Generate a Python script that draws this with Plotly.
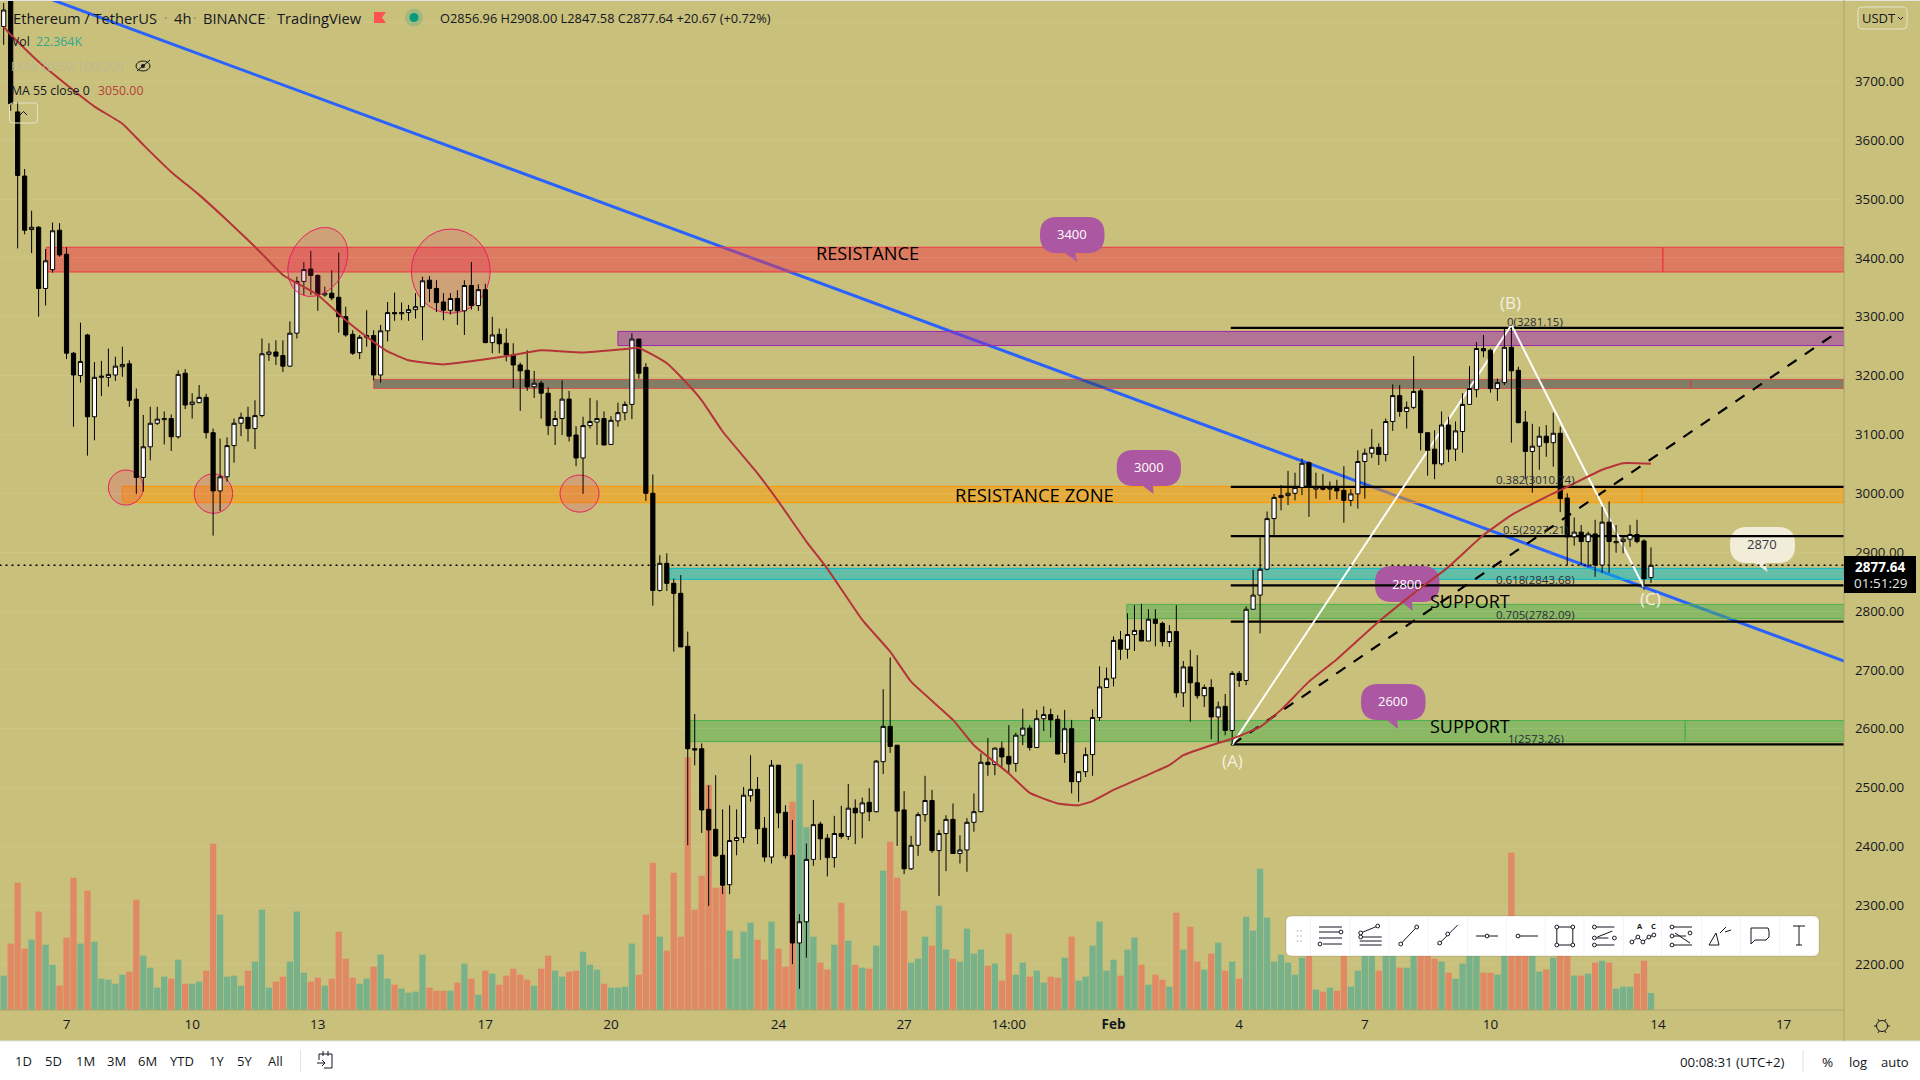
# eth_chart.py
import pandas as pd
import numpy as np
import plotly.graph_objects as go

# 4h candles ETH/USDT
first_bar = pd.Timestamp("2022-01-05 12:00")

opens = [3793,3838,3648,3539,3448,3452,3348,3380,3447,3406, 3238,3200,3269,3130,3197,3197,3201,3215,3220,3160,
         3027,3079,3119,3125,3127,3096,3204,3151,3154,3163, 3103,3004,3028,3081,3119,3129,3110,3132,3236,3240,
         3234,3216,3272,3360,3381,3370,3337,3340,3333,3300, 3270,3239,3265,3268,3201,3276,3307,3305,3307,3312,
         3317,3362,3348,3325,3311,3331,3310,3353,3319,3346, 3256,3270,3255,3235,3218,3209,3181,3187,3170,3115,
         3127,3160,3099,3060,3115,3121,3127,3083,3123,3137, 3151,3262,3214,3000,2835,2881,2847,2830,2740,2566,
         2566,2463,2429,2385,2335,2410,2415,2486,2497,2431, 2382,2538,2458,2385,2236,2272,2378,2438,2414,2381,
         2422,2417,2465,2457,2475,2459,2544,2604,2572,2462, 2362,2402,2454,2478,2393,2422,2446,2388,2394,2441,
         2459,2543,2539,2567,2553,2541,2589,2601,2568,2617, 2624,2616,2558,2600,2510,2527,2556,2619,2670,2686,
         2751,2735,2760,2767,2749,2786,2779,2748,2765,2661, 2705,2678,2656,2670,2620,2638,2597,2694,2682,2803,
         2827,2871,2957,2993,2996,3000,3010,3052,3007,3009, 3007,3009,3005,2988,2999,3054,3068,3078,3066,3122,
         3166,3139,3146,3174,3103,3075,3050,3116,3075,3105, 3151,3176,3246,3243,3178,3188,3248,3209,3121,3071,
         3080,3097,3086,3102,2992,2926,2934,2918,2931,2878, 2951,2916,2918,2922,2930,2919,2856.96]
highs = [3833,3850,3665,3551,3480,3454,3415,3460,3459,3418, 3240,3290,3271,3223,3225,3246,3232,3249,3226,3178,
         3133,3147,3147,3139,3134,3209,3211,3170,3184,3169, 3110,3093,3095,3127,3137,3147,3158,3263,3255,3260,
         3260,3292,3368,3393,3412,3372,3351,3379,3409,3317, 3277,3269,3311,3277,3286,3325,3341,3324,3320,3340,
         3368,3369,3362,3340,3340,3345,3362,3393,3355,3356, 3300,3280,3280,3255,3222,3243,3208,3191,3180,3140,
         3192,3174,3114,3130,3162,3158,3139,3131,3154,3156, 3272,3262,3221,3032,2895,2898,2855,2861,2765,2625,
         2575,2504,2521,2463,2470,2463,2501,2555,2518,2450, 2547,2538,2470,2445,2285,2405,2479,2442,2421,2452,
         2469,2506,2480,2483,2499,2547,2667,2721,2572,2494, 2418,2458,2520,2496,2428,2453,2473,2419,2448,2490,
         2558,2584,2568,2578,2606,2593,2634,2606,2632,2638, 2634,2623,2632,2615,2527,2568,2633,2706,2704,2757,
         2766,2796,2810,2812,2803,2803,2782,2776,2810,2715, 2734,2725,2675,2684,2646,2659,2698,2698,2808,2870,
         2925,2969,2999,3014,3038,3035,3059,3054,3035,3033, 3020,3023,3046,3007,3073,3076,3109,3085,3127,3185,
         3184,3156,3233,3178,3103,3107,3139,3130,3122,3170, 3216,3257,3269,3246,3195,3280,3281,3215,3140,3118,
         3113,3116,3137,3113,3000,2959,2946,2935,2955,2977, 2986,2946,2929,2946,2955,2922,2908.00]
lows = [3762,3650,3416,3440,3408,3300,3319,3375,3402,3228, 3113,3188,3064,3090,3165,3181,3191,3198,3147,2999,
        3003,3056,3116,3083,3072,3093,3143,3127,3153,3093, 2928,2970,3020,3052,3097,3088,3075,3129,3225,3218,
        3206,3215,3263,3337,3337,3310,3334,3328,3273,3266, 3235,3228,3249,3192,3188,3258,3293,3294,3293,3297,
        3260,3325,3308,3294,3304,3286,3269,3312,3310,3255, 3238,3238,3224,3179,3140,3174,3162,3127,3099,3082,
        3099,3088,3046,2999,3110,3082,3082,3082,3113,3124, 3126,3195,2987,2809,2833,2834,2731,2739,2402,2538,
        2423,2299,2382,2319,2319,2385,2406,2476,2404,2374, 2371,2431,2379,2200,2158,2211,2367,2377,2349,2364,
        2413,2411,2404,2414,2443,2458,2523,2559,2401,2353, 2360,2384,2442,2389,2316,2358,2388,2371,2357,2425,
        2458,2520,2521,2533,2524,2527,2572,2563,2568,2596, 2585,2557,2542,2490,2476,2518,2520,2613,2670,2672,
        2717,2719,2732,2749,2749,2740,2740,2739,2653,2637, 2612,2651,2637,2582,2577,2589,2574,2671,2674,2803,
        2762,2869,2929,2971,2980,2988,2997,2960,2991,3005, 2989,2990,2950,2978,2974,2991,3060,3048,3054,3106,
        3130,3110,3143,3073,3030,3024,3047,3053,3055,3069, 3151,3163,3231,3171,3157,3184,3086,3119,3024,3001,
        3040,3062,3045,2968,2878,2911,2878,2875,2858,2865, 2865,2899,2898,2909,2915,2836,2847.58]
closes = [3821,3662,3540,3447,3452,3348,3395,3446,3405,3238, 3201,3224,3130,3197,3199,3202,3216,3219,3158,3027,
          3079,3119,3126,3127,3096,3202,3150,3155,3163,3103, 3004,3028,3081,3119,3129,3110,3132,3237,3240,3233,
          3216,3272,3360,3380,3370,3337,3340,3332,3300,3269, 3238,3265,3268,3201,3276,3307,3305,3307,3312,3317,
          3361,3348,3324,3311,3331,3310,3353,3319,3346,3256, 3269,3254,3235,3218,3208,3181,3187,3170,3115,3127,
          3160,3097,3060,3115,3122,3127,3082,3124,3137,3151, 3262,3204,3000,2835,2881,2847,2830,2739,2566,2564,
          2462,2428,2384,2334,2410,2415,2487,2497,2430,2382, 2538,2457,2384,2236,2272,2378,2437,2413,2381,2422,
          2417,2465,2457,2474,2459,2545,2604,2570,2460,2362, 2402,2454,2478,2393,2422,2446,2388,2394,2441,2459,
          2543,2539,2567,2552,2540,2589,2601,2568,2617,2624, 2615,2557,2600,2510,2527,2556,2619,2671,2685,2750,
          2735,2760,2767,2749,2786,2779,2748,2765,2661,2705, 2678,2656,2670,2620,2637,2597,2694,2682,2803,2827,
          2871,2957,2993,2996,3000,3010,3051,3011,3010,3007, 3009,3004,2988,2999,3054,3068,3078,3066,3122,3166,
          3139,3146,3173,3103,3073,3050,3116,3075,3106,3151, 3178,3246,3242,3178,3188,3248,3208,3120,3071,3080,
          3097,3086,3102,2991,2926,2934,2918,2931,2878,2951, 2918,2918,2922,2930,2918,2855,2877.64]

# volume in thousands
volumes = [45.2,87.3,167.5,80.7,92.5,129.4,85.9,59.6,32.0,95.2, 174.1,87.3,157.0,89.9,41.2,39.9,34.6,46.5,50.4,145.1,
           71.5,55.7,29.4,43.9,41.2,66.2,34.6,34.6,37.3,51.7, 218.8,125.4,43.9,45.2,32.0,51.7,63.6,132.0,29.4,37.3,
           43.9,63.6,129.4,49.1,37.3,42.5,32.0,41.2,103.0,67.5, 42.5,34.6,41.2,57.0,72.8,41.2,33.3,28.1,22.8,24.1,
           72.8,29.4,25.4,25.4,25.4,36.0,61.0,41.2,20.2,51.7, 47.8,33.3,45.2,54.4,46.5,39.9,32.0,54.4,71.5,51.7,
           43.9,50.4,51.7,76.7,59.6,53.1,34.6,29.4,29.4,30.7, 87.3,46.5,125.4,193.8,96.5,78.1,180.7,96.5,332.4,132.0,
           176.7,296.4,160.9,162.2,104.4,67.5,103.0,114.9,92.5,66.2, 116.2,80.7,57.0,274.1,324.1,240.3,96.5,62.3,53.1,85.9,
           141.2,91.2,59.6,55.7,54.4,84.6,183.3,221.4,174.1,130.7, 62.3,67.5,96.5,84.6,137.3,79.4,67.5,63.6,107.0,74.1,
           79.4,58.3,61.0,38.6,100.4,46.5,62.3,43.9,51.7,36.0, 43.9,42.5,68.8,96.5,38.6,43.9,84.6,116.2,51.7,66.2,
           45.2,79.4,95.2,59.6,33.3,46.5,39.9,30.7,128.0,79.4, 109.6,63.6,53.1,74.1,88.6,51.7,63.6,41.2,122.8,104.4,
           185.9,121.5,63.6,72.8,62.3,46.5,68.8,71.5,26.7,24.1, 29.4,25.4,82.4,30.7,51.7,82.4,82.4,51.7,82.4,82.4,
           55.7,55.7,82.4,86.8,82.4,67.5,63.6,49.1,41.2,61.0, 86.8,82.4,49.1,49.1,46.5,82.4,207.0,82.4,78.1,73.7,
           50.4,53.1,68.8,82.4,78.1,45.2,45.2,47.8,62.3,64.9, 62.3,28.1,30.7,30.7,47.8,64.9,22.364]

# MA 55 read at some bars
ma_bars = [0,1,5,9,13,17,20,24,28,32,36,40,45,49,52,55,58,63,68,73,77,83,89,91,95,97,100,103,108,111,115,118,123,127,
           130,136,139,144,147,151,154,156,159,164,167,169,173,176,180,183,187,191,197,202,207,212,216,221,224,229,232,236]
ma_values = [3793,3779,3733,3694,3657,3628,3592,3546,3507,3464,3419,3371,3337,3294,3266,3241,3226,3219,3226,3235,3243,
             3239,3245,3247,3221,3198,3158,3105,3034,2986,2918,2872,2785,2731,2680,2615,2572,2524,2491,2473,2470,2477,
             2496,2522,2538,2555,2572,2583,2603,2632,2680,2718,2782,2830,2875,2929,2963,2994,3011,3040,3051,3050]

# price zones: label, first bar, top, bottom, split bar
zone_names = ["resistance", "purple", "grey", "orange", "teal", "green_up", "green_low"]
zone_start = [6.1, 88, 53, 17, 95.3, 160.9, 98.3]
zone_top = [3418, 3275, 3193.6, 3011.8, 2872.5, 2811.3, 2614]
zone_bottom = [3376, 3251, 3178, 2984, 2853.8, 2787, 2578]
zone_split = [237.7, None, 241.7, 234.7, None, None, 240.9]
zone_fill = ["rgba(242,54,69,0.5)", "rgba(156,39,176,0.5)", "rgba(60,60,80,0.5)", "rgba(255,152,0,0.5)",
             "rgba(0,188,212,0.5)", "rgba(76,175,80,0.5)", "rgba(76,175,80,0.5)"]
zone_line = ["#f23645", "#9c27b0", "rgba(242,54,69,0.7)", "#ff9800", "#00bcd4", "#4caf50", "#4caf50"]

# fibonacci
fib_levels = [3281.15, 3010.74, 2927.21, 2843.68, 2782.09, 2573.26]
fib_labels = ["0(3281.15)", "0.382(3010.74)", "0.5(2927.21)", "0.618(2843.68)", "0.705(2782.09)", "1(2573.26)"]
fib_label_y = [321, 479, 529, 579, 614, 738]
fib_label_x = [1535, 1535, 1535, 1535, 1535, 1536]

# abc zigzag
abc_bars = [176, 216, 235]
abc_prices = [2573, 3286, 2840]

# x axis labels
tick_bars = [9, 27, 45, 69, 87, 111, 129, 144, 159, 177, 195, 213, 237, 255]
tick_text = ["7", "10", "13", "17", "20", "24", "27", "14:00", "<b>Feb</b>", "4", "7", "10", "14", "17"]
price_ticks = list(range(2200, 3900, 100))
price_tick_text = [f"{p:.2f}" if p < 3800 else "" for p in price_ticks]
last_close = closes[-1]

W, H = 1920, 1080
PLOT_R, PLOT_B, AXIS_B = 1844, 1010, 1041
BG = "#c9c07b"
TXT = "#131722"
FONT = "Open Sans"


def at(bar):
    return first_bar + pd.Timedelta(hours=4 * bar)


def px_x(x):
    return x / W


def px_y(y):
    return 1 - y / H


def price_at(y):
    return 3300 - (y - 316.7) * 1.699


def bar_at(x):
    return (x - 3.7) / 6.98


def paper_pt(x, y):
    return f"{px_x(x):.5f},{px_y(y):.5f}"


def data_pt(x, y):
    return at(bar_at(x)).strftime("%Y-%m-%d_%H:%M:%S") + f",{price_at(y):.2f}"


def round_path(x0, y0, x1, y1, r, pt, tail=None):
    # rounded box, tail = (base x, tip x, tip y) on the bottom side
    p = [f"M{pt(x0 + r, y0)}", f"L{pt(x1 - r, y0)}", f"Q{pt(x1, y0)} {pt(x1, y0 + r)}",
         f"L{pt(x1, y1 - r)}", f"Q{pt(x1, y1)} {pt(x1 - r, y1)}"]
    if tail:
        p += [f"L{pt(tail[0] + 5, y1)}", f"L{pt(tail[1], tail[2])}", f"L{pt(tail[0] - 5, y1)}"]
    p += [f"L{pt(x0 + r, y1)}", f"Q{pt(x0, y1)} {pt(x0, y1 - r)}", f"L{pt(x0, y0 + r)}",
          f"Q{pt(x0, y0)} {pt(x0 + r, y0)}", "Z"]
    return " ".join(p)


shapes = []
notes = []


def text(x, y, s, size=13, color=TXT, anchor="center", family=FONT):
    notes.append(dict(x=px_x(x), y=px_y(y), xref="paper", yref="paper", text=s, showarrow=False,
                      xanchor=anchor, yanchor="middle", font=dict(size=size, color=color, family=family)))


def ui_line(x0, y0, x1, y1, color=TXT, width=1, layer="above"):
    shapes.append(dict(type="line", xref="paper", yref="paper", x0=px_x(x0), y0=px_y(y0), x1=px_x(x1), y1=px_y(y1),
                       line=dict(color=color, width=width), layer=layer))


def ui_rect(x0, y0, x1, y1, fill, line=None, layer="above"):
    shapes.append(dict(type="rect", xref="paper", yref="paper", x0=px_x(x0), y0=px_y(y0), x1=px_x(x1), y1=px_y(y1),
                       fillcolor=fill, line=dict(width=1 if line else 0, color=line or fill), layer=layer))


def ui_dot(x, y, r, fill="white", line=TXT):
    shapes.append(dict(type="circle", xref="paper", yref="paper", x0=px_x(x - r), y0=px_y(y - r), x1=px_x(x + r),
                       y1=px_y(y + r), fillcolor=fill, line=dict(width=1 if line else 0, color=line or fill),
                       layer="above"))


def zone(b0, b1, top, bottom, fill, line):
    shapes.append(dict(type="rect", xref="x", yref="y2", x0=at(b0), x1=at(b1), y0=bottom, y1=top,
                       fillcolor=fill, line=dict(color=line, width=1), layer="below"))


def data_line(b0, p0, b1, p1, color, width, dash="solid"):
    shapes.append(dict(type="line", xref="x", yref="y2", x0=at(b0), x1=at(b1), y0=p0, y1=p1,
                       line=dict(color=color, width=width, dash=dash), layer="below"))


def oval(b0, b1, p0, p1):
    shapes.append(dict(type="circle", xref="x", yref="y2", x0=at(b0), x1=at(b1), y0=p0, y1=p1,
                       fillcolor="rgba(233,30,99,0.18)", line=dict(color="#e91e63", width=1), layer="below"))


def bubble(x0, y0, x1, y1, tail, fill):
    shapes.append(dict(type="path", xref="x", yref="y2", path=round_path(x0, y0, x1, y1, 17, data_pt, tail),
                       fillcolor=fill, line=dict(width=0), layer="below"))


END_BAR = bar_at(PLOT_R)

# blue trend line goes first so the zones cover it
data_line(7.06, 3838, 263.67, 2715, "#2962ff", 3)

for i in range(len(zone_names)):
    if zone_split[i]:
        zone(zone_start[i], zone_split[i], zone_top[i], zone_bottom[i], zone_fill[i], zone_line[i])
        zone(zone_split[i], END_BAR, zone_top[i], zone_bottom[i], zone_fill[i], zone_line[i])
    else:
        zone(zone_start[i], END_BAR, zone_top[i], zone_bottom[i], zone_fill[i], zone_line[i])

oval(58.4, 69.7, 3306, 3449)
oval(15.0, 20.0, 2980, 3039.5)
oval(27.3, 32.8, 2966, 3033)
oval(79.7, 85.3, 2968, 3031)

bubble(1040, 217, 1104.5, 253, (1070, 1077.5, 262), "#ab57a2")
bubble(1116.7, 450, 1181, 486, (1148, 1153.5, 494), "#ab57a2")
bubble(1361, 684, 1425.6, 720, (1392, 1398, 729), "#ab57a2")
bubble(1375, 566, 1439.5, 602, (1407, 1412.6, 611), "#ab57a2")
bubble(1730, 527, 1795, 563, (1760, 1767.7, 572), "#f1edd9")

for lvl in fib_levels:
    data_line(175.8, lvl, END_BAR, lvl, "black", 2.2)

data_line(176, 2573, 262.8, 3274.5, "black", 2.2, "11px,10px")
data_line(abc_bars[0], abc_prices[0], abc_bars[1], abc_prices[1], "white", 2)
data_line(abc_bars[1], abc_prices[1], abc_bars[2], abc_prices[2], "white", 2)
data_line(-0.6, last_close, END_BAR, last_close, "black", 1.6, "2px,4px")

fig = go.Figure()

vol_colors = ["#78b28a" if c >= o else "#e08964" for o, c in zip(opens, closes)]
dates = [at(i) for i in range(len(closes))]

# bar width in ms, a 4h bar with a small gap
fig.add_trace(go.Bar(x=dates, y=volumes, width=13000000, marker=dict(color=vol_colors, line=dict(width=0)),
                     yaxis="y", hoverinfo="skip", showlegend=False))

# tilted oval on the first top
t = np.linspace(0, 2 * np.pi, 60)
tilt = np.radians(60)
dx = 36.5 * np.cos(t) * np.cos(tilt) - 27.5 * np.sin(t) * np.sin(tilt)
dy = 36.5 * np.cos(t) * np.sin(tilt) + 27.5 * np.sin(t) * np.cos(tilt)
fig.add_trace(go.Scatter(x=[at(45 + v / 6.98) for v in dx], y=3393 + dy * 1.699, yaxis="y2", mode="lines",
                         fill="toself", fillcolor="rgba(233,30,99,0.18)", line=dict(color="#e91e63", width=1),
                         hoverinfo="skip", showlegend=False))

fig.add_trace(go.Candlestick(x=dates, open=opens, high=highs, low=lows, close=closes, yaxis="y2",
                             whiskerwidth=0,
                             increasing=dict(fillcolor="white", line=dict(color="black", width=1)),
                             decreasing=dict(fillcolor="black", line=dict(color="black", width=1)),
                             hoverinfo="skip", showlegend=False))

fig.add_trace(go.Scatter(x=[at(b) for b in ma_bars], y=ma_values, yaxis="y2", mode="lines",
                         line=dict(color="#b5343a", width=2, shape="spline", smoothing=0.4),
                         hoverinfo="skip", showlegend=False))

# bottom strip, top strip
ui_rect(0, AXIS_B, W, H, "white", layer="below")
ui_line(0, AXIS_B, W, AXIS_B, "#e0e3eb", 1, layer="below")
ui_rect(0, 0, W, 1, "#e4e4e0")

# header
text(11, 18, "Ethereum / TetherUS", 14.7, anchor="left")
text(172, 18, "4h", 14.7, anchor="left")
text(201, 18, "BINANCE", 14.7, anchor="left")
text(275, 18, "TradingView", 14.7, anchor="left")
text(165, 18, "·", 13, "#8a8558")
text(194, 18, "·", 13, "#8a8558")
text(268, 18, "·", 13, "#8a8558")
shapes.append(dict(type="path", xref="paper", yref="paper", layer="above", fillcolor="#ff5252", line=dict(width=0),
                   path=f"M{paper_pt(374, 12)} L{paper_pt(386, 12)} L{paper_pt(382, 17.5)} L{paper_pt(386, 23)} L{paper_pt(374, 23)} Z"))
ui_dot(414, 17.5, 9, "rgba(0,150,136,0.2)", None)
ui_dot(414, 17.5, 4.5, "#089981", None)
text(438, 18, "O2856.96&nbsp;H2908.00&nbsp;L2847.58&nbsp;C2877.64&nbsp;+20.67 (+0.72%)", 12.8, anchor="left")

text(10, 42, "Vol", 12.3, anchor="left")
text(34, 42, "22.364K", 12.3, "#2fa98c", anchor="left")
text(9, 66, "EMA 20/50/100/200", 12.3, "#bdb894", anchor="left")
text(9, 90, "MA 55 close 0", 12.3, anchor="left")
text(96, 90, "3050.00", 12.3, "#b8403a", anchor="left")

# eye with a slash
shapes.append(dict(type="circle", xref="paper", yref="paper", x0=px_x(136), x1=px_x(150), y0=px_y(61), y1=px_y(71),
                   line=dict(color=TXT, width=1), layer="above"))
ui_dot(143, 66, 2, TXT, None)
ui_line(137, 71, 150, 60)

# collapse button
shapes.append(dict(type="path", xref="paper", yref="paper", layer="above", fillcolor="rgba(0,0,0,0)",
                   line=dict(color="#e4e3cc", width=1), path=round_path(9.5, 103, 37.5, 123, 3, paper_pt)))
ui_line(20, 115, 23.5, 111.5, TXT, 1)
ui_line(23.5, 111.5, 27, 115, TXT, 1)

# big labels
text(867, 253, "RESISTANCE", 18.2, "black")
text(1034, 494, "RESISTANCE ZONE", 18.5, "black")
text(1470, 601, "SUPPORT", 18, "black")
text(1470, 726, "SUPPORT", 18, "black")
for lab, ly, lx in zip(fib_labels, fib_label_y, fib_label_x):
    text(lx, ly, lab, 11.5, "#2a2e39")
text(1232, 760, "(A)", 17, "#f3f0e0")
text(1510, 302, "(B)", 17, "#f3f0e0")
text(1650, 598, "(C)", 17, "#f3f0e0")
text(1072, 234, "3400", 13, "white")
text(1149, 467, "3000", 13, "white")
text(1393, 701, "2600", 13, "white")
text(1407, 584, "2800", 13, "white")
text(1762, 544, "2870", 13, "#33363f")

# axis furniture
ui_line(PLOT_R, 0, PLOT_R, AXIS_B, "#aaa56c", 1)
ui_line(0, PLOT_B, PLOT_R, PLOT_B, "#aaa56c", 1)
shapes.append(dict(type="path", xref="paper", yref="paper", layer="above", fillcolor=BG,
                   line=dict(color="#e4e3cc", width=1), path=round_path(1858, 7, 1907, 29, 4, paper_pt)))
text(1879, 18, "USDT", 13)
ui_line(1898, 17, 1900.5, 19.5)
ui_line(1900.5, 19.5, 1903, 17)
ui_rect(1844, 556, 1916, 593, "black")
text(1880, 567.5, "<b>2877.64</b>", 13.5, "white")
text(1880, 583, "01:51:29", 13.5, "#e6e6e6")

# gear
ui_dot(1882, 1026, 5.5, "rgba(0,0,0,0)", TXT)
for a in np.arange(0, 360, 60):
    ca, sa = np.cos(np.radians(a)), np.sin(np.radians(a))
    ui_line(1882 + 5.5 * ca, 1026 + 5.5 * sa, 1882 + 8 * ca, 1026 + 8 * sa)

# bottom bar
range_labels = ["1D", "5D", "1M", "3M", "6M", "YTD", "1Y", "5Y", "All"]
range_x = [23.7, 53.9, 85, 116, 147, 181.6, 216, 245, 275.5]
for lab, x in zip(range_labels, range_x):
    text(x, 1061, lab, 13)
ui_line(300.5, 1050, 300.5, 1072, "#e0e3eb")
ui_line(1803, 1050, 1803, 1072, "#e0e3eb")
ui_line(319, 1054, 332, 1054)
ui_line(332, 1054, 332, 1068)
ui_line(332, 1068, 324, 1068)
ui_line(319, 1054, 319, 1060)
ui_line(317, 1063, 325, 1063)
ui_line(322, 1060, 325, 1063)
ui_line(322, 1066, 325, 1063)
ui_line(323, 1051, 323, 1056)
ui_line(328, 1051, 328, 1056)
text(1732, 1061.5, "00:08:31 (UTC+2)", 13.3)
text(1827, 1061.5, "%", 13.5)
text(1857.5, 1061.5, "log", 13)
text(1895, 1061.5, "auto", 13)

# drawing toolbar
shapes.append(dict(type="path", xref="paper", yref="paper", layer="above", fillcolor="white",
                   line=dict(color="rgba(0,0,0,0.12)", width=1), path=round_path(1286, 916, 1819, 956, 6, paper_pt)))
for gx in (1297.5, 1301):
    for gy in (931, 936, 941):
        ui_dot(gx, gy, 0.9, "#c8cad0", None)
icon_x = [1330, 1369.7, 1408.7, 1447.7, 1487, 1526, 1564.8, 1603.4, 1642.9, 1681, 1721, 1760, 1799]
for k in range(len(icon_x)):
    ui_line(icon_x[k] - 19.5, 917, icon_x[k] - 19.5, 955, "#f0f3fa")
icons = [
    ([(-11,-9,12,-9),(-11,-4,9,-4),(-11,2,12,2),(-7,8,12,8)], [(11,-4),(-10,8)]),
    ([(-9,-3,8,-10),(-10,1,12,1),(-10,5,12,5),(-10,9,12,9)], [(8,-10),(-9,-3),(-9,1)]),
    ([(-8,8,8,-9)], [(-8,8),(8,-9)]),
    ([(-10,9,10,-11)], [(-8,7),(0,-2)]),
    ([(-11,0,11,0)], [(0,0)]),
    ([(-8,0,12,0)], [(-8,0)]),
    ([(-8,-9,8,-9),(-8,9,8,9),(-8,-9,-8,9),(8,-9,8,9)], [(-8,-9),(8,-9),(-8,9),(8,9)]),
    ([(-8,-9,11,-9),(-8,9,11,9),(-8,2,5,2),(-6,1,9,-5)], [(-9,-9),(-9,2),(-9,9),(11,2)]),
    ([(-11,6,-5,1),(-5,1,0,6),(0,6,6,1),(6,1,11,-1)], [(-11,6),(-5,1),(0,6),(6,1),(11,-1)]),
    ([(-8,-9,11,-9),(-8,9,11,9),(-6,-3,9,7),(-8,0,5,0)], [(-9,-9),(-9,0),(-9,9),(9,-3)]),
    ([(-12,9,-2,9),(-12,9,-5,-3),(-5,-3,-2,9),(-1,-3,5,-9),(4,-4,10,-6)], []),
    ([(-9,-8,8,-8),(-9,-8,-9,8),(-9,8,-5,4),(-5,4,6,4),(9,-5,9,1),(8,-8,9,-5),(9,1,6,4)], []),
    ([(-6,-10,6,-10),(0,-10,0,9),(-3,9,3,9)], []),
]
for cx, (segs, dots) in zip(icon_x, icons):
    for s in segs:
        ui_line(cx + s[0], 936 + s[1], cx + s[2], 936 + s[3])
    for d in dots:
        ui_dot(cx + d[0], 936 + d[1], 1.9)
text(icon_x[8] - 3, 926, "<b>A</b>", 7.5)
text(icon_x[8] + 11, 926, "<b>C</b>", 7.5)

fig.update_layout(
    width=W, height=H, autosize=False,
    margin=dict(l=0, r=0, t=0, b=0),
    paper_bgcolor=BG, plot_bgcolor=BG,
    bargap=0.14,
    boxgap=0.2, boxgroupgap=0.25,
    showlegend=False,
    hovermode=False,
    font=dict(family=FONT, color=TXT),
    shapes=shapes,
    annotations=notes,
    xaxis=dict(domain=[0, PLOT_R / W], range=[at(-0.53), at(END_BAR)], type="date",
               rangeslider=dict(visible=False), showgrid=False, zeroline=False,
               tickmode="array", tickvals=[at(b) for b in tick_bars], ticktext=tick_text,
               tickfont=dict(size=13.5, color=TXT), ticks="", ticklabelstandoff=4, fixedrange=True),
    yaxis=dict(domain=[1 - PLOT_B / H, 1], range=[0, 1328.7], visible=False, fixedrange=True),
    yaxis2=dict(domain=[1 - PLOT_B / H, 1], range=[2122.1, 3838.1], overlaying="y", side="right", anchor="x",
                tickmode="array", tickvals=price_ticks, ticktext=price_tick_text,
                tickfont=dict(size=13.3, color=TXT), ticks="", ticklabelstandoff=10,
                showgrid=True, gridcolor="rgba(255,255,255,0.09)", gridwidth=1, zeroline=False, fixedrange=True),
)

print(len(opens), len(highs), len(lows), len(closes), len(volumes))
fig.write_html("out.html", config=dict(displayModeBar=False),
               post_script="document.body.style.margin='0';document.body.style.overflow='hidden';")
